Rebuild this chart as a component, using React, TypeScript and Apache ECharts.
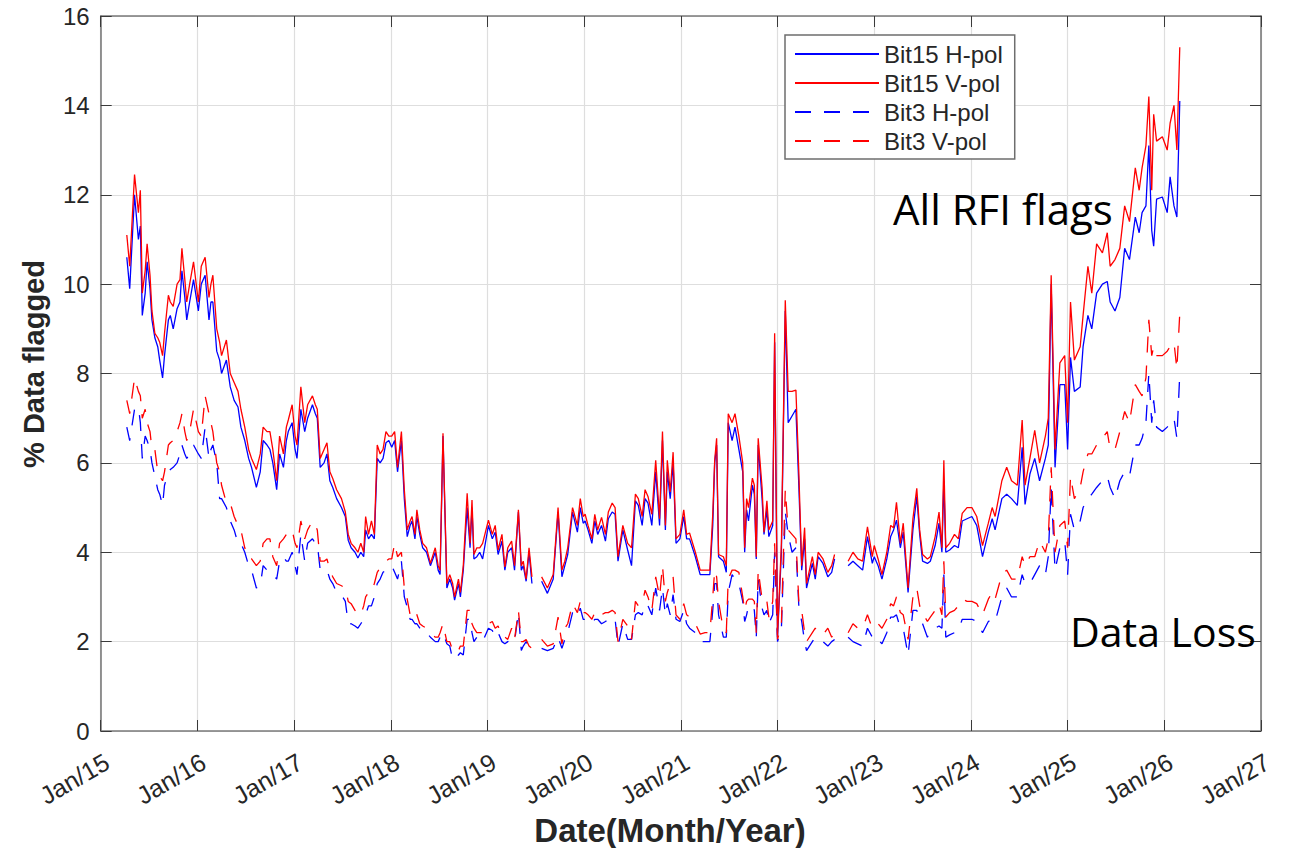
import React, { useEffect, useRef } from "react";
import * as echarts from "echarts";

const FONT = "'Liberation Sans', Arial, Helvetica, sans-serif";

// decimal year of each sample
const years: number[] = [
  2015.27, 2015.30, 2015.35, 2015.39, 2015.41, 2015.43, 2015.46, 2015.48, 2015.51, 2015.53, 2015.56, 2015.59, 2015.61, 2015.64, 2015.66, 2015.70, 2015.72, 2015.75, 2015.79, 2015.82, 2015.84, 2015.87, 2015.89, 2015.92, 2015.96,
  2016.01, 2016.04, 2016.08, 2016.12, 2016.14, 2016.16, 2016.20, 2016.23, 2016.25, 2016.30, 2016.34, 2016.38, 2016.42, 2016.45, 2016.49, 2016.53, 2016.56, 2016.61, 2016.65, 2016.68, 2016.72, 2016.75, 2016.78, 2016.82, 2016.85, 2016.89, 2016.92, 2016.94, 2016.98,
  2017.01, 2017.03, 2017.07, 2017.11, 2017.14, 2017.19, 2017.22, 2017.24, 2017.27, 2017.31, 2017.34, 2017.37, 2017.40, 2017.44, 2017.49, 2017.53, 2017.56, 2017.59, 2017.63, 2017.66, 2017.69, 2017.72, 2017.74, 2017.77, 2017.80, 2017.83, 2017.86, 2017.89, 2017.92, 2017.95, 2017.98,
  2018.01, 2018.04, 2018.07, 2018.11, 2018.14, 2018.17, 2018.20, 2018.22, 2018.25, 2018.27, 2018.30, 2018.33, 2018.37, 2018.41, 2018.46, 2018.49, 2018.51, 2018.54, 2018.58, 2018.61, 2018.64, 2018.66, 2018.70, 2018.72, 2018.75, 2018.79, 2018.82, 2018.84, 2018.86, 2018.89, 2018.92, 2018.95,
  2019.01, 2019.05, 2019.08, 2019.11, 2019.15, 2019.18, 2019.21, 2019.25, 2019.28, 2019.32, 2019.35, 2019.37, 2019.40, 2019.43, 2019.46, 2019.51, 2019.56, 2019.62, 2019.68, 2019.73, 2019.77, 2019.80, 2019.83, 2019.88, 2019.93, 2019.96, 2019.99,
  2020.01, 2020.04, 2020.08, 2020.11, 2020.14, 2020.18, 2020.22, 2020.25, 2020.29, 2020.32, 2020.35, 2020.40, 2020.45, 2020.49, 2020.53, 2020.56, 2020.60, 2020.63, 2020.66, 2020.70, 2020.74, 2020.78, 2020.81, 2020.84, 2020.86, 2020.89, 2020.92, 2020.95, 2020.99,
  2021.03, 2021.06, 2021.09, 2021.15, 2021.20, 2021.25, 2021.30, 2021.33, 2021.35, 2021.37, 2021.39, 2021.44, 2021.47, 2021.49, 2021.53, 2021.56, 2021.60, 2021.64, 2021.66, 2021.68, 2021.70, 2021.74, 2021.76, 2021.78, 2021.80, 2021.84, 2021.86, 2021.89, 2021.91, 2021.95, 2021.97,
  2022.00, 2022.04, 2022.08, 2022.11, 2022.15, 2022.19, 2022.22, 2022.25, 2022.28, 2022.30, 2022.36, 2022.39, 2022.42, 2022.47, 2022.52, 2022.56, 2022.59, 2022.66, 2022.73, 2022.78, 2022.83, 2022.88, 2022.93, 2022.98,
  2023.00, 2023.04, 2023.08, 2023.13, 2023.17, 2023.20, 2023.23, 2023.27, 2023.30, 2023.35, 2023.40, 2023.44, 2023.47, 2023.50, 2023.55, 2023.58, 2023.63, 2023.67, 2023.70, 2023.72, 2023.74, 2023.78, 2023.83, 2023.87, 2023.91, 2023.96,
  2024.01, 2024.06, 2024.12, 2024.18, 2024.22, 2024.25, 2024.32, 2024.37, 2024.42, 2024.48, 2024.53, 2024.56, 2024.61, 2024.66, 2024.71, 2024.77, 2024.80, 2024.83, 2024.87, 2024.92, 2024.97,
  2025.00, 2025.03, 2025.07, 2025.13, 2025.16, 2025.21, 2025.25, 2025.30, 2025.36, 2025.41, 2025.44, 2025.49, 2025.54, 2025.59, 2025.64, 2025.70, 2025.74, 2025.77, 2025.81, 2025.84, 2025.87, 2025.89, 2025.92, 2025.98, 2026.03, 2026.06, 2026.10, 2026.13, 2026.16,
];

const bit15H: (number | null)[] = [
  10.6, 9.9, 12.0, 11.0, 11.3, 9.3, 9.8, 10.5, 9.9, 9.2, 8.8, 8.6, 8.3, 7.9, 8.4, 9.2, 9.3, 9.0, 9.45, 9.6, 10.3, 9.7, 9.2, 9.6, 10.1,
  9.4, 10.0, 10.2, 9.2, 9.6, 9.6, 8.5, 8.3, 8.0, 8.3, 7.7, 7.4, 7.25, 6.8, 6.5, 6.1, 5.9, 5.45, 5.8, 6.5, 6.4, 6.3, 6.0, 5.4, 6.2, 5.9, 6.5, 6.7, 6.9,
  6.3, 6.1, 7.2, 6.7, 7.0, 7.3, 7.1, 7.0, 5.9, 6.0, 6.2, 5.6, 5.45, 5.2, 5.0, 4.8, 4.27, 4.1, 4.0, 3.87, 4.0, 3.9, 4.5, 4.3, 4.4, 4.3, 6.1, 6.0, 6.1, 6.45, 6.5,
  6.35, 6.5, 5.8, 6.5, 5.2, 4.35, 4.6, 4.7, 4.3, 4.8, 4.4, 4.1, 4.0, 3.7, 4.0, 3.6, 3.5, 6.6, 3.2, 3.4, 3.2, 2.93, 3.3, 3.0, 3.6, 5.0, 4.1, 5.0, 3.85, 3.9, 4.0, 3.85,
  4.6, 4.3, 4.45, 3.95, 4.25, 3.6, 4.0, 4.1, 3.6, 4.9, 3.6, 3.7, 3.35, 4.0, 3.3, null, 3.35, 3.08, 3.4, 4.9, 3.45, 3.7, 3.95, 4.9, 4.45, 5.0, 4.65,
  4.7, 4.5, 4.2, 4.7, 4.4, 4.6, 4.25, 4.75, 4.9, 4.85, 3.8, 4.5, 4.05, 3.7, 5.15, 5.05, 4.6, 5.2, 5.1, 4.6, 5.8, 4.6, 6.5, 4.5, 5.8, 5.2, 6.0, 4.2, 4.3,
  4.8, 4.3, 4.3, 3.9, 3.5, 3.5, 3.5, 4.6, 6.0, 6.4, 3.9, 3.8, 3.55, 6.9, 6.5, 6.8, 6.3, 5.8, 4.0, 4.95, 4.7, 5.5, 5.3, 3.85, 6.4, 5.2, 4.4, 4.95, 4.35, 4.6, 8.7,
  2.1, 4.0, 9.4, 6.9, 7.05, 7.2, 5.5, 3.6, 4.3, 3.2, 3.75, 3.4, 3.9, 3.75, 3.45, 3.55, 3.85, null, 3.7, 3.8, 3.7, 3.6, 4.35, 3.75,
  3.9, 3.7, 3.4, 3.85, 4.35, 4.5, 4.72, 4.1, 4.45, 3.1, 4.5, 5.25, 4.4, 3.8, 3.75, 3.8, 4.15, 4.65, 4.0, 5.6, 4.0, 4.05, 4.15, 4.1, 4.7, 4.75,
  4.8, 4.6, 3.9, 4.45, 4.75, 4.5, 5.2, 5.3, 5.2, 5.05, 6.35, 5.07, 5.75, 6.1, 5.6, 6.1, 6.4, 10.0, 5.9, 7.75, 7.75,
  6.3, 8.36, 7.6, 7.7, 8.6, 9.3, 9.0, 9.8, 10.0, 10.06, 9.6, 9.4, 9.7, 10.8, 10.55, 11.5, 11.15, 11.6, 11.75, 13.1, 11.2, 10.85, 11.9, 11.95, 11.6, 12.4, 11.75, 11.5, 14.1,
];

const bit15V: (number | null)[] = [
  11.1, 10.4, 12.45, 11.6, 12.1, 9.8, 10.3, 10.9, 10.2, 9.4, 8.9, 8.8, 8.7, 8.4, 8.9, 9.75, 9.6, 9.5, 10.0, 10.1, 10.8, 10.1, 9.6, 10.0, 10.5,
  9.6, 10.4, 10.6, 9.7, 10.0, 10.2, 9.0, 8.7, 8.4, 8.75, 8.0, 7.8, 7.6, 7.2, 6.8, 6.3, 6.1, 5.85, 6.2, 6.8, 6.7, 6.7, 6.3, 5.6, 6.6, 6.2, 6.8, 6.96, 7.3,
  6.6, 6.4, 7.7, 6.9, 7.3, 7.5, 7.3, 7.2, 6.1, 6.3, 6.45, 5.8, 5.65, 5.4, 5.2, 4.9, 4.4, 4.2, 4.1, 4.0, 4.2, 4.0, 4.8, 4.4, 4.7, 4.4, 6.4, 6.2, 6.3, 6.7, 6.6,
  6.6, 6.7, 5.9, 6.7, 5.4, 4.5, 4.7, 4.8, 4.4, 4.95, 4.5, 4.2, 4.1, 3.75, 4.1, 3.7, 3.6, 6.66, 3.3, 3.5, 3.3, 3.0, 3.4, 3.1, 3.7, 5.32, 4.2, 5.17, 3.95, 4.1, 4.1, 4.2,
  4.72, 4.4, 4.6, 4.05, 4.4, 3.67, 4.1, 4.25, 3.7, 4.95, 3.7, 3.8, 3.4, 4.1, 3.45, null, 3.45, 3.2, 3.5, 5.0, 3.6, 3.8, 4.1, 5.0, 4.6, 5.2, 4.8,
  4.85, 4.6, 4.3, 4.85, 4.5, 4.78, 4.4, 4.9, 5.1, 5.0, 3.9, 4.6, 4.2, 4.1, 5.3, 5.2, 4.8, 5.4, 5.25, 4.85, 6.06, 4.75, 6.7, 4.6, 6.06, 5.35, 6.24, 4.3, 4.4,
  4.95, 4.4, 4.43, 4.0, 3.6, 3.6, 3.6, 4.85, 6.06, 6.55, 3.95, 3.9, 3.7, 7.1, 6.9, 7.1, 6.6, 6.0, 4.1, 5.2, 5.0, 5.66, 5.5, 3.9, 6.55, 5.45, 4.45, 5.15, 4.5, 4.7, 8.9,
  2.15, 4.2, 9.64, 7.6, 7.6, 7.63, 5.8, 3.7, 4.55, 3.3, 3.9, 3.5, 4.0, 3.85, 3.55, 3.7, 3.95, null, 3.8, 4.0, 3.85, 3.8, 4.57, 3.9,
  4.15, 3.85, 3.5, 4.0, 4.6, 4.55, 5.12, 4.2, 4.65, 3.2, 4.75, 5.43, 4.5, 3.95, 3.85, 3.9, 4.35, 4.9, 4.1, 6.06, 4.1, 4.2, 4.4, 4.3, 4.87, 5.0,
  5.0, 4.8, 4.15, 4.65, 5.0, 4.8, 5.6, 5.9, 5.6, 5.5, 6.96, 5.5, 6.1, 6.73, 6.0, 6.6, 7.0, 10.2, 6.3, 8.24, 8.4,
  6.9, 9.6, 8.3, 8.6, 9.3, 10.4, 9.8, 10.9, 10.7, 11.15, 10.4, 10.55, 10.8, 11.75, 11.4, 12.6, 12.1, 12.6, 13.1, 14.2, 12.1, 13.8, 13.2, 13.3, 13.0, 13.6, 14.0, 13.0, 15.3,
];

const bit3H: (number | null)[] = [
  6.8, 6.5, 7.2, 7.25, 6.9, 6.1, 6.6, 6.5, 6.3, 6.0, 5.7, 5.4, 5.3, 5.05, 5.5, 5.8, 5.85, 5.9, 6.0, 6.2, 6.4, 6.2, 6.1, 6.2, 6.4,
  6.2, 6.1, 6.8, 6.1, 6.3, 6.4, 6.0, 5.2, 5.2, 5.0, 4.7, 4.5, 4.2, 4.2, 4.0, 3.7, 3.6, 3.2, 3.25, 3.7, 3.6, 3.6, 3.5, 3.4, 3.8, 3.9, 3.8, 3.8, 4.0,
  3.7, 3.5, 4.4, 3.8, 4.2, 4.3, 4.2, 4.2, 3.6, 3.6, 3.6, 3.4, 3.3, 3.1, 3.05, 2.9, 2.4, 2.4, 2.35, 2.3, 2.4, 2.5, 2.6, 2.8, 2.8, 3.0, 3.3, 3.4, 3.55, 3.6, 3.65,
  3.7, 3.55, 3.4, 3.8, 3.0, 2.77, 2.5, 2.5, 2.4, 2.4, 2.3, 2.2, 2.2, 2.1, 2.0, 2.0, 2.1, 2.2, 1.95, 1.9, 1.6, 1.6, 1.7, 1.75, 1.7, 2.5, 2.5, 2.2, 2.0, 2.1, 2.0, 2.0,
  2.3, 2.25, 2.1, 2.2, 2.0, 1.95, 2.0, 2.05, 2.0, 2.65, 1.8, 1.9, 2.0, 1.85, 1.8, null, 1.85, 1.8, 1.85, 2.1, 1.85, 2.05, 2.2, 2.65, 2.55, 2.75, 2.5,
  2.5, 2.5, 2.4, 2.5, 2.5, 2.4, 2.45, 2.5, 2.55, 2.5, 1.9, 2.4, 2.05, 2.05, 2.6, 2.65, 2.6, 2.85, 2.8, 2.6, 3.2, 2.7, 3.2, 2.6, 2.85, 2.6, 3.05, 2.5, 2.45,
  2.7, 2.4, 2.3, 2.2, 2.0, 2.0, 2.0, 2.7, 3.3, 3.3, 2.6, 2.1, 2.1, 3.1, 3.5, 3.4, 3.3, 2.9, 2.45, 2.6, 2.8, 2.8, 2.7, 2.1, 3.4, 2.75, 2.6, 2.7, 2.4, 2.6, 4.0,
  2.0, 2.3, 4.9, 4.4, 4.0, 4.1, 2.8, 2.45, 2.0, 1.8, 2.0, 2.1, 2.05, 2.0, 1.9, 2.0, 2.05, null, 2.1, 2.0, 1.95, 1.9, 2.3, 2.1,
  2.15, 2.05, 1.95, 2.2, 2.55, 2.55, 2.6, 2.3, 2.3, 1.7, 2.7, 2.7, 2.5, 2.4, 2.1, 2.25, 2.3, 2.35, 2.3, 3.5, 2.1, 2.15, 2.2, 2.25, 2.5, 2.5,
  2.5, 2.45, 2.2, 2.45, 2.5, 2.45, 3.0, 3.2, 3.0, 3.0, 3.5, 3.3, 3.3, 3.5, 3.7, 3.5, 3.9, 5.45, 3.6, 4.1, 4.25,
  3.5, 4.85, 4.5, 4.7, 5.0, 5.2, 5.3, 5.45, 5.6, 5.7, 5.45, 5.2, 5.6, 5.8, 5.7, 6.4, 6.4, 6.55, 6.9, 8.0, 6.9, 7.4, 6.8, 6.7, 6.8, 6.9, 7.0, 6.55, 8.0,
];

const bit3V: (number | null)[] = [
  7.4, 7.1, 7.9, 7.6, 7.5, 7.0, 7.2, 6.9, 6.7, 6.3, 6.3, 5.8, 5.7, 5.6, 5.8, 6.4, 6.45, 6.5, 6.7, 6.9, 7.1, 6.7, 6.5, 6.7, 7.2,
  6.7, 6.6, 7.5, 7.1, 6.9, 6.7, 6.0, 5.8, 5.5, 5.1, 5.1, 4.8, 4.6, 4.5, 4.1, 3.85, 3.85, 3.7, 3.8, 4.2, 4.3, 4.3, 3.9, 3.7, 4.2, 4.3, 4.4, 4.4, 4.5,
  4.2, 4.1, 4.7, 4.3, 4.5, 4.7, 4.6, 4.5, 3.8, 3.8, 3.85, 3.6, 3.45, 3.3, 3.25, 3.2, 2.9, 2.85, 2.7, 2.6, 2.6, 2.8, 3.0, 3.1, 3.1, 3.3, 3.55, 3.65, 3.75, 3.8, 3.85,
  3.85, 4.2, 3.9, 4.0, 3.2, 2.95, 2.6, 2.7, 2.7, 2.6, 2.4, 2.35, 2.3, 2.2, 2.1, 2.1, 2.2, 2.4, 2.0, 2.0, 1.8, 1.75, 1.8, 1.9, 1.9, 2.7, 2.7, 2.4, 2.3, 2.2, 2.2, 2.2,
  2.4, 2.45, 2.3, 2.35, 2.1, 2.1, 2.05, 2.3, 2.05, 2.7, 2.0, 2.0, 2.05, 1.9, 1.85, null, 2.05, 1.9, 1.95, 2.55, 1.95, 2.3, 2.4, 2.85, 2.65, 2.9, 2.65,
  2.65, 2.6, 2.5, 2.65, 2.7, 2.6, 2.65, 2.65, 2.7, 2.65, 2.0, 2.5, 2.35, 2.05, 2.9, 2.8, 2.85, 3.15, 3.0, 2.7, 3.45, 3.0, 3.7, 2.9, 3.1, 3.3, 3.45, 2.6, 2.5,
  2.85, 2.6, 2.55, 2.4, 2.17, 2.2, 2.2, 3.0, 3.6, 3.45, 2.9, 2.25, 2.2, 3.4, 3.6, 3.6, 3.55, 3.0, 2.7, 2.9, 2.95, 2.95, 2.9, 2.2, 3.6, 2.95, 2.85, 2.9, 2.55, 2.9, 4.2,
  2.05, 2.4, 5.4, 4.5, 4.4, 4.3, 2.9, 2.7, 2.2, 2.0, 2.2, 2.3, 2.2, 2.15, 2.3, 2.1, 2.2, null, 2.2, 2.4, 2.3, 2.3, 2.6, 2.3,
  2.35, 2.4, 2.3, 2.5, 2.85, 2.8, 3.0, 2.65, 2.6, 2.05, 3.0, 3.2, 2.8, 2.65, 2.45, 2.55, 2.7, 2.85, 2.6, 3.8, 2.55, 2.65, 2.7, 2.8, 2.95, 2.9,
  2.9, 2.85, 2.6, 2.95, 3.1, 2.95, 3.5, 3.6, 3.4, 3.4, 3.9, 3.7, 3.9, 3.9, 4.25, 4.0, 4.3, 5.9, 4.0, 4.6, 4.7,
  4.1, 5.7, 5.2, 5.45, 5.8, 6.2, 6.2, 6.4, 6.55, 6.7, 6.3, 6.3, 6.7, 7.15, 6.9, 7.75, 7.6, 7.5, 7.9, 9.2, 8.4, 8.6, 8.4, 8.4, 8.5, 8.6, 8.7, 8.1, 9.35,
];

const seriesNames = ["Bit15 H-pol", "Bit15 V-pol", "Bit3 H-pol", "Bit3 V-pol"];
const yearTicks = { min: 2015, max: 2027, step: 1 };
const valueTicks = { min: 0, max: 16, step: 2 };

const pairs = (vals: (number | null)[]) =>
  years.map((x, i) => [x, vals[i] == null ? "-" : vals[i]]);

export default function App() {
  const ref = useRef<HTMLDivElement>(null);

  useEffect(() => {
    if (!ref.current) return;
    const chart = echarts.init(ref.current, null, { renderer: "svg" });

    const axisLineStyle = { color: "#7a7a7a", width: 1.6 };
    const tickStyle = { color: "#3a3a3a", width: 1 };
    const gridLine = { color: "#dedede", width: 1.2 };

    const mkLine = (name: string, vals: (number | null)[], color: string, dashed: boolean, z: number) => ({
      name,
      type: "line",
      xAxisIndex: 0,
      yAxisIndex: 0,
      data: pairs(vals),
      showSymbol: false,
      symbol: "none",
      legendIcon: "path://M0,0",
      connectNulls: false,
      silent: true,
      z,
      itemStyle: { color },
      lineStyle: { color, width: 1.3, type: dashed ? [16, 13] : "solid" },
    });

    const option: any = {
      animation: false,
      backgroundColor: "#ffffff",
      textStyle: { fontFamily: FONT },
      grid: { left: 100.7, right: 28, top: 16, bottom: 117, containLabel: false, outerBoundsMode: "none" },
      legend: {
        show: true,
        orient: "vertical",
        left: 785,
        top: 35,
        data: seriesNames,
        itemWidth: 84,
        itemHeight: 14,
        itemGap: 5,
        padding: [7, 12, 6, 9],
        borderColor: "#6e6e6e",
        borderWidth: 1.5,
        borderRadius: 0,
        backgroundColor: "#ffffff",
        selectedMode: false,
        itemStyle: { opacity: 0, borderWidth: 0 },
        textStyle: { fontSize: 24, color: "#262626", fontFamily: FONT, lineHeight: 24 },
      },
      xAxis: [
        {
          type: "value",
          position: "bottom",
          min: yearTicks.min,
          max: yearTicks.max,
          interval: yearTicks.step,
          axisLine: { show: true, onZero: false, lineStyle: axisLineStyle },
          axisTick: { show: true, inside: true, length: 11, lineStyle: tickStyle },
          axisLabel: {
            show: true,
            rotate: 30,
            margin: 18,
            align: "right",
            verticalAlign: "top",
            fontSize: 25,
            color: "#262626",
            fontFamily: FONT,
            showMinLabel: true,
            showMaxLabel: true,
            formatter: (v: number) => "Jan/" + String(Math.round(v) - 2000).padStart(2, "0"),
          },
          splitLine: { show: true, lineStyle: gridLine },
        },
        {
          type: "value",
          position: "top",
          min: yearTicks.min,
          max: yearTicks.max,
          interval: yearTicks.step,
          axisLine: { show: true, onZero: false, lineStyle: axisLineStyle },
          axisTick: { show: true, inside: true, length: 11, lineStyle: tickStyle },
          axisLabel: { show: false },
          splitLine: { show: false },
        },
      ],
      yAxis: [
        {
          type: "value",
          position: "left",
          min: valueTicks.min,
          max: valueTicks.max,
          interval: valueTicks.step,
          axisLine: { show: true, onZero: false, lineStyle: axisLineStyle },
          axisTick: { show: true, inside: true, length: 11, lineStyle: tickStyle },
          axisLabel: { show: true, margin: 11, fontSize: 24, color: "#262626", fontFamily: FONT },
          splitLine: { show: true, lineStyle: gridLine },
        },
        {
          type: "value",
          position: "right",
          min: valueTicks.min,
          max: valueTicks.max,
          interval: valueTicks.step,
          axisLine: { show: true, onZero: false, lineStyle: axisLineStyle },
          axisTick: { show: true, inside: true, length: 11, lineStyle: tickStyle },
          axisLabel: { show: false },
          splitLine: { show: false },
        },
      ],
      series: [
        mkLine(seriesNames[0], bit15H, "#0000ff", false, 2),
        mkLine(seriesNames[1], bit15V, "#ff0000", false, 3),
        mkLine(seriesNames[2], bit3H, "#0000ff", true, 4),
        mkLine(seriesNames[3], bit3V, "#ff0000", true, 5),
      ],
      graphic: [
        {
          type: "text",
          x: 34,
          y: 364,
          rotation: Math.PI / 2,
          style: {
            text: "% Data flagged",
            font: `bold 29px ${FONT}`,
            fill: "#262626",
            align: "center",
            verticalAlign: "middle",
          },
        },
        {
          type: "text",
          x: 670,
          y: 830,
          style: {
            text: "Date(Month/Year)",
            font: `bold 33px ${FONT}`,
            fill: "#262626",
            align: "center",
            verticalAlign: "middle",
          },
        },
        {
          type: "text",
          x: 893,
          y: 208,
          z: 100,
          style: {
            text: "All RFI flags",
            font: "42px 'Open Sans', 'Noto Sans', sans-serif",
            fill: "#000000",
            align: "left",
            verticalAlign: "middle",
          },
        },
        {
          type: "text",
          x: 1070,
          y: 631,
          z: 100,
          style: {
            text: "Data Loss",
            font: "41px 'Open Sans', 'Noto Sans', sans-serif",
            fill: "#000000",
            align: "left",
            verticalAlign: "middle",
          },
        },
      ],
    };

    chart.setOption(option);
    return () => chart.dispose();
  }, []);

  return (
    <div
      ref={ref}
      style={{ position: "absolute", left: 0, top: 0, width: 1289, height: 848, background: "#fff" }}
    />
  );
}
